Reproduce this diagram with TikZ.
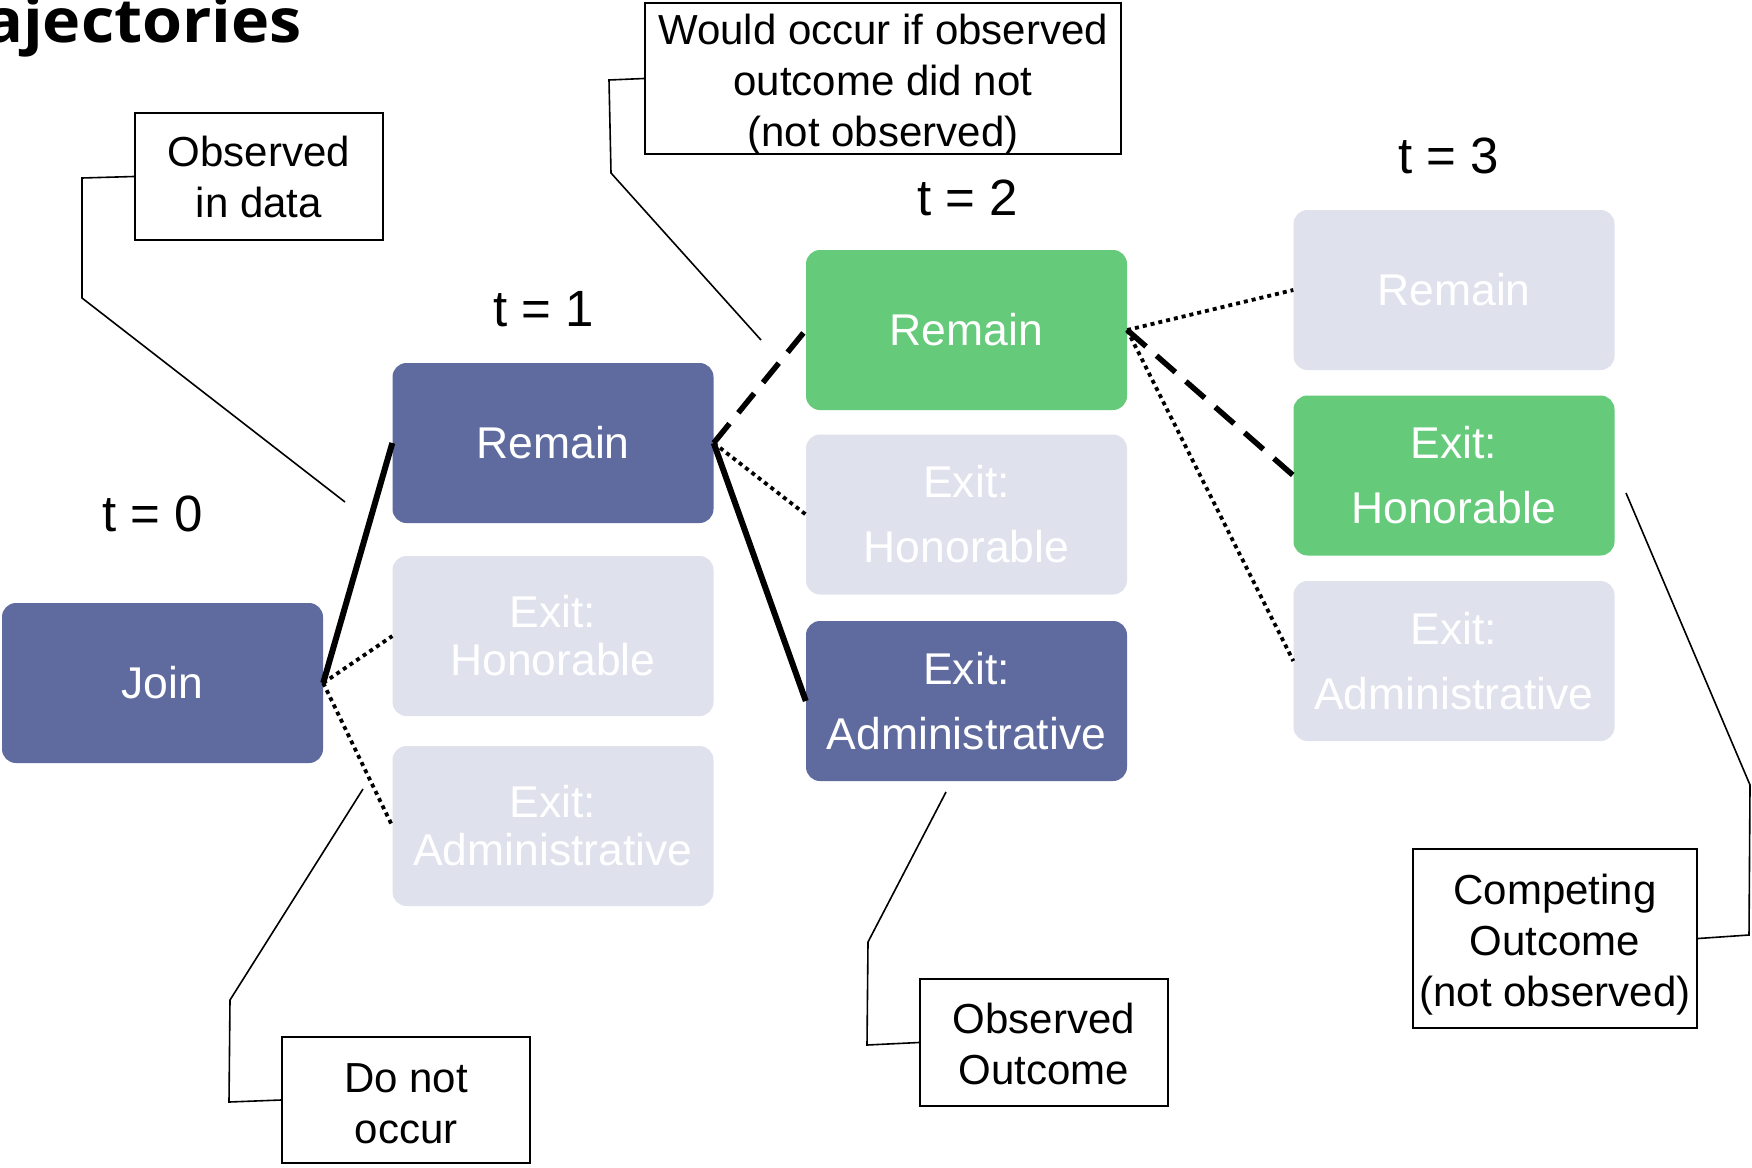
\documentclass[tikz,border=0pt]{standalone}
\usepackage{fontspec}
\setmainfont{Liberation Sans}
\newfontfamily\titlefam[FakeStretch=1.06]{Open Sans}
\definecolor{boxblue}{HTML}{5F6B9F}
\definecolor{boxgreen}{HTML}{65CA79}
\definecolor{boxgray}{HTML}{DFE1ED}
\tikzset{
  statebox/.style={rounded corners=14pt, minimum width=321pt, minimum height=160pt,
     inner sep=0pt, align=center, text=white},
  tight/.style={font=\fontsize{44.5}{48}\selectfont},
  loose/.style={font=\fontsize{44.5}{65}\selectfont},
  bluebox/.style={statebox, fill=boxblue},
  greenbox/.style={statebox, fill=boxgreen},
  graybox/.style={statebox, fill=boxgray},
  callout/.style={draw=black, line width=2.2pt, inner sep=0pt},
  callouttext/.style={inner sep=0pt, align=center, font=\fontsize{42}{51}\selectfont},
  tlabel/.style={font=\fontsize{51}{56}\selectfont, inner sep=0pt},
  solidc/.style={line width=6pt},
  dashc/.style={line width=5.5pt, dash pattern=on 25pt off 14pt},
  dotc/.style={line width=3.8pt, dash pattern=on 4pt off 4pt},
  leader/.style={line width=1.6pt},
}
\begin{document}
\begin{tikzpicture}[x=1pt,y=-1pt]
\useasboundingbox (0,0) rectangle (1752,1167);
\clip (0,0) rectangle (1752,1167);
\fill[white] (0,0) rectangle (1752,1167);

% title fragment
\node[anchor=base east, inner sep=0pt, font=\titlefam\bfseries\fontsize{61}{63}\selectfont] (title) at (302,42) {ajectories};

% time labels
\node[tlabel] (t0) at (153,514) {t = 0};
\node[tlabel] (t1) at (544,309) {t = 1};
\node[tlabel] (t2) at (968,198) {t = 2};
\node[tlabel] (t3) at (1449,156) {t = 3};

% state boxes
\node[bluebox, tight] (join) at (162.5,683) {Join};
\node[bluebox, tight] (rem1) at (553,443) {Remain};
\node[graybox, tight] (hon1) at (553,636) {Exit:\\Honorable};
\node[graybox, tight] (adm1) at (553,826) {Exit:\\Administrative};
\node[greenbox, loose] (rem2) at (966.5,330) {Remain};
\node[graybox, loose] (hon2) at (966.5,514.5) {Exit:\\Honorable};
\node[bluebox, loose] (adm2) at (966.5,701) {Exit:\\Administrative};
\node[graybox, loose] (rem3) at (1454,290) {Remain};
\node[greenbox, loose] (hon3) at (1454,475.5) {Exit:\\Honorable};
\node[graybox, loose] (adm3) at (1454,661) {Exit:\\Administrative};

% connectors
\draw[solidc] (join.east) -- (rem1.west);
\draw[dotc] (join.east) -- (hon1.west);
\draw[dotc] (join.east) -- (adm1.west);
\draw[dashc] (rem1.east) -- (rem2.west);
\draw[dotc] (rem1.east) -- (hon2.west);
\draw[solidc] (rem1.east) -- (adm2.west);
\draw[dotc] (rem2.east) -- (rem3.west);
\draw[dashc] (rem2.east) -- (hon3.west);
\draw[dotc] (rem2.east) -- (adm3.west);

% callouts
\node[callout, minimum width=248pt, minimum height=127pt] (obsdata) at (259,176.5) {};
\node[callouttext] (obsdatatxt) at (obsdata.center) {Observed\\in data};
\node[callout, minimum width=476pt, minimum height=151pt] (would) at (883,78.5) {};
\node[callouttext] (wouldtxt) at ([yshift=-6pt]would.center) {Would occur if observed\\outcome did not\\(not observed)};
\node[callout, minimum width=248pt, minimum height=126pt] (donot) at (406,1100) {};
\node[callouttext] (donottxt) at ([yshift=-4pt]donot.center) {Do not\\occur};
\node[callout, minimum width=248pt, minimum height=127pt] (obsout) at (1044,1042.5) {};
\node[callouttext] (obsouttxt) at ([yshift=-1pt]obsout.center) {Observed\\Outcome};
\node[callout, minimum width=284pt, minimum height=179pt] (compete) at (1555,938.5) {};
\node[callouttext] (competetxt) at ([yshift=-6pt]compete.center) {Competing\\Outcome\\(not observed)};

% leader lines
\coordinate (a1) at (82,178); \coordinate (a2) at (82,298); \coordinate (a3) at (345,502);
\draw[leader] (obsdata.west) -- (a1) -- (a2) -- (a3);
\coordinate (b1) at (609,80); \coordinate (b2) at (611,173); \coordinate (b3) at (761,340);
\draw[leader] (would.west) -- (b1) -- (b2) -- (b3);
\coordinate (c1) at (229,1102); \coordinate (c2) at (230,1000); \coordinate (c3) at (363,789);
\draw[leader] (donot.west) -- (c1) -- (c2) -- (c3);
\coordinate (d1) at (867,1045); \coordinate (d2) at (868,942); \coordinate (d3) at (946,792);
\draw[leader] (obsout.west) -- (d1) -- (d2) -- (d3);
\coordinate (e1) at (1749,935); \coordinate (e2) at (1750,785); \coordinate (e3) at (1626,493);
\draw[leader] (compete.east) -- (e1) -- (e2) -- (e3);
\end{tikzpicture}
\end{document}
